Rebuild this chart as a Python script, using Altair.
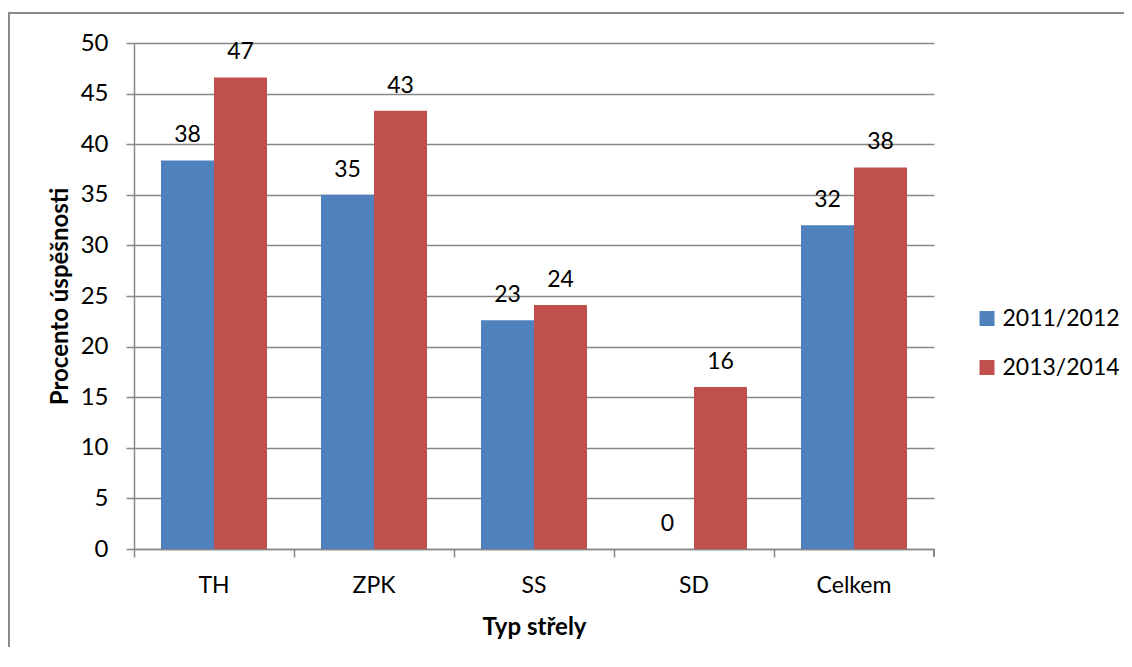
import altair as alt
import pandas as pd

categories = ["TH", "ZPK", "SS", "SD", "Celkem"]
series_names = ["2011/2012", "2013/2014"]
values_2011 = [38.4, 35.0, 22.6, 0.0, 32.0]
values_2013 = [46.6, 43.3, 24.1, 16.0, 37.7]
colors = ["#4F81BD", "#C0504D"]

rows = []
for c, a, b in zip(categories, values_2011, values_2013):
    rows.append({"Typ": c, "Sezona": series_names[0], "Hodnota": a})
    rows.append({"Typ": c, "Sezona": series_names[1], "Hodnota": b})
df = pd.DataFrame(rows)

FONT = "Lato"
GRID = "#868686"
W, H = 800, 506

x_enc = alt.X(
    "Typ:N",
    sort=categories,
    scale=alt.Scale(paddingInner=0.3375, paddingOuter=0.16875),
    axis=alt.Axis(
        title="Typ střely",
        bandPosition=-0.2547,
        labelAngle=0,
        labelFont=FONT,
        labelFontSize=23,
        labelColor="#000000",
        labelBaseline="middle",
        labelPadding=28,
        tickSize=8,
        tickColor=GRID,
        tickWidth=1.5,
        domainColor=GRID,
        domainWidth=1.5,
        titleFont=FONT,
        titleFontSize=24,
        titleFontWeight="bold",
        titleColor="#000000",
        titleBaseline="middle",
        titleX=400,
        titleY=78,
        grid=False,
    ),
)
xo_enc = alt.XOffset("Sezona:N", sort=series_names,
                     scale=alt.Scale(paddingInner=0, paddingOuter=0))
y_enc = alt.Y(
    "Hodnota:Q",
    scale=alt.Scale(domain=[0, 50], nice=False),
    axis=alt.Axis(
        title="Procento úspěšnosti",
        values=[0, 5, 10, 15, 20, 25, 30, 35, 40, 45, 50],
        labelFont=FONT,
        labelFontSize=24,
        labelColor="#000000",
        labelPadding=18,
        tickSize=8,
        tickColor=GRID,
        tickWidth=1.5,
        domainColor=GRID,
        domainWidth=1.5,
        gridColor=GRID,
        gridWidth=1.5,
        titleFont=FONT,
        titleFontSize=24,
        titleFontWeight="bold",
        titleColor="#000000",
        titleBaseline="middle",
        titleX=-74,
        titleY=253,
    ),
)

color_enc = alt.Color(
    "Sezona:N",
    sort=series_names,
    scale=alt.Scale(domain=series_names, range=colors),
    legend=alt.Legend(
        title=None,
        orient="none",
        legendX=841.5,
        legendY=264,
        symbolType="square",
        symbolSize=225,
        symbolStrokeWidth=0,
        labelFont=FONT,
        labelFontSize=23,
        labelColor="#000000",
        labelOffset=4,
        rowPadding=25,
        padding=0,
    ),
)

bars = alt.Chart(df).mark_bar().encode(
    x=x_enc, xOffset=xo_enc, y=y_enc, color=color_enc
)

labels = alt.Chart(df).mark_text(
    font=FONT, fontSize=23, color="#000000", baseline="alphabetic", dy=-18
).encode(
    x=alt.X("Typ:N", sort=categories),
    xOffset=alt.XOffset("Sezona:N", sort=series_names),
    y="Hodnota:Q",
    text=alt.Text("Hodnota:Q", format=".0f"),
)

last_tick = alt.Chart(df).mark_rule(color=GRID, strokeWidth=1.5).encode(
    x=alt.value(W), y=alt.value(H), y2=alt.value(H + 8)
)

frame = alt.Chart(df).mark_rect(
    fill=None, stroke="#8a8a8a", strokeWidth=2, clip=False
).encode(
    x=alt.value(-125.5), y=alt.value(-30), x2=alt.value(3000), y2=alt.value(3000)
)

chart = alt.layer(frame, bars, labels, last_tick).properties(
    width=W,
    height=H,
    padding={"left": 126, "top": 35, "right": 190, "bottom": 98},
    autosize=alt.AutoSizeParams(type="none"),
    background="#ffffff",
).configure_view(stroke=None)

chart.save("out.html", embed_options={"renderer": "svg", "actions": False})
